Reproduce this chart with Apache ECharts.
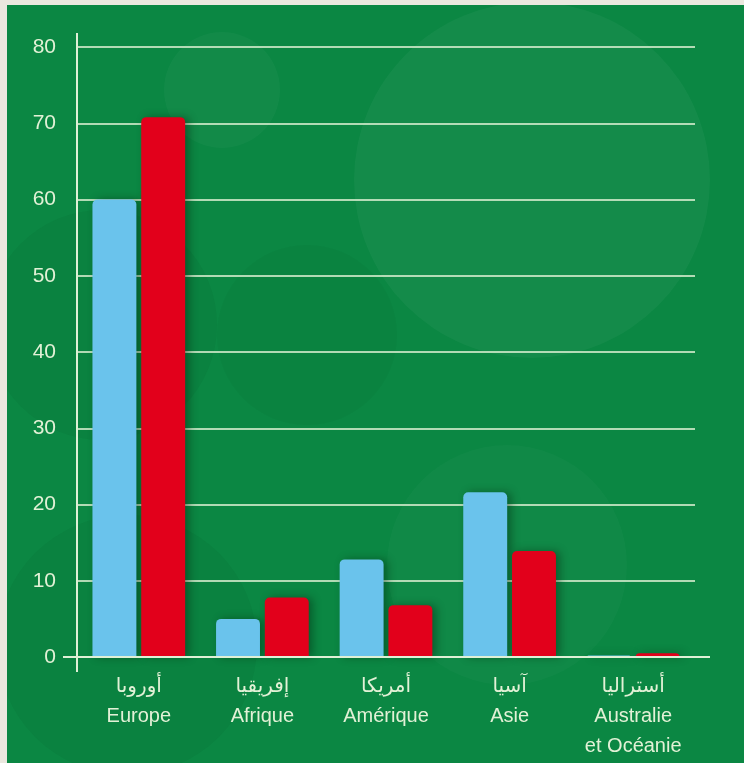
<!DOCTYPE html>
<html>
<head>
<meta charset="utf-8">
<script src="https://cdn.jsdelivr.net/npm/echarts@6/dist/echarts.min.js"></script>
<style>
  html, body { margin: 0; padding: 0; background: #ebe8df; }
  #chart { position: absolute; left: 7px; top: 5px; width: 737px; height: 758px; }
</style>
</head>
<body>
<div id="chart"></div>
<script>
// data
const categories = ['أوروبا\nEurope', 'إفريقيا\nAfrique', 'أمريكا\nAmérique', 'آسيا\nAsie', 'أستراليا\nAustralie\net Océanie'];
const blueValues = [60, 5, 12.8, 21.6, 0.2];
const redValues = [70.8, 7.8, 6.8, 13.9, 0.5];
const yTicks = [0, 10, 20, 30, 40, 50, 60, 70, 80];

const font = '"Liberation Sans", Arial, "DejaVu Sans", sans-serif';
const txt = '#e2f1d6';

let chart = echarts.init(document.getElementById('chart'));

let barStyle = function (color) {
  return {
    color: color,
    borderRadius: [5, 5, 0, 0],
    shadowColor: 'rgba(0,30,10,0.4)',
    shadowBlur: 8,
    shadowOffsetX: 4,
    shadowOffsetY: 0,
  };
};

let circles = [
  { id: 'c1', type: 'circle', z: -10, silent: true, shape: { cx: 525, cy: 175, r: 178 }, style: { fill: 'rgba(255,255,255,0.04)' } },
  { id: 'c2', type: 'circle', z: -10, silent: true, shape: { cx: 215, cy: 85, r: 58 }, style: { fill: 'rgba(255,255,255,0.03)' } },
  { id: 'c3', type: 'circle', z: -10, silent: true, shape: { cx: 95, cy: 320, r: 115 }, style: { fill: 'rgba(0,40,10,0.05)' } },
  { id: 'c4', type: 'circle', z: -10, silent: true, shape: { cx: 120, cy: 640, r: 130 }, style: { fill: 'rgba(0,40,10,0.05)' } },
  { id: 'c5', type: 'circle', z: -10, silent: true, shape: { cx: 500, cy: 560, r: 120 }, style: { fill: 'rgba(255,255,255,0.025)' } },
  { id: 'c6', type: 'circle', z: -10, silent: true, shape: { cx: 300, cy: 330, r: 90 }, style: { fill: 'rgba(0,40,10,0.04)' } },
];

chart.setOption({
  backgroundColor: '#0b8743',
  animation: false,
  graphic: circles,
  grid: {
    left: 70,
    right: 49,
    top: 42,
    bottom: 106,
  },
  xAxis: {
    type: 'category',
    data: categories,
    axisLine: { show: false },
    axisTick: { show: false },
    axisLabel: {
      color: txt,
      fontFamily: font,
      fontSize: 20,
      lineHeight: 30,
      margin: 14,
      interval: 0,
    },
  },
  yAxis: {
    type: 'value',
    min: 0,
    max: 80,
    interval: 10,
    axisLine: { show: false },
    axisTick: { show: false },
    splitLine: { lineStyle: { color: 'rgba(220,240,210,0.8)', width: 2 } },
    axisLabel: {
      color: txt,
      fontFamily: font,
      fontSize: 21,
      margin: 21,
      formatter: function (v) { return yTicks.indexOf(v) >= 0 ? String(v) : ''; },
    },
  },
  series: [
    {
      type: 'bar',
      data: blueValues,
      barGap: '11%',
      barCategoryGap: '25%',
      itemStyle: barStyle('#6ac3ec'),
    },
    {
      type: 'bar',
      data: redValues,
      itemStyle: barStyle('#e2001b'),
    },
  ],
});

// axis lines, slightly extended past the plot like the original, placed via the chart's own scales
let p0 = chart.convertToPixel({ gridIndex: 0 }, [0, 0]);
let pTop = chart.convertToPixel({ yAxisIndex: 0 }, 80);
let gridRect = chart.getModel().getComponent('grid').coordinateSystem.getRect();
let xLeft = gridRect.x;
let xRight = gridRect.x + gridRect.width;
chart.setOption({
  graphic: circles.concat([
    { id: 'yline', type: 'line', z: 50, silent: true, shape: { x1: xLeft, y1: pTop - 14, x2: xLeft, y2: p0[1] + 15 }, style: { stroke: '#dff0d6', lineWidth: 2 } },
    { id: 'xline', type: 'line', z: 50, silent: true, shape: { x1: xLeft - 14, y1: p0[1], x2: xRight + 15, y2: p0[1] }, style: { stroke: '#dff0d6', lineWidth: 2 } },
  ]),
});
</script>
</body>
</html>
